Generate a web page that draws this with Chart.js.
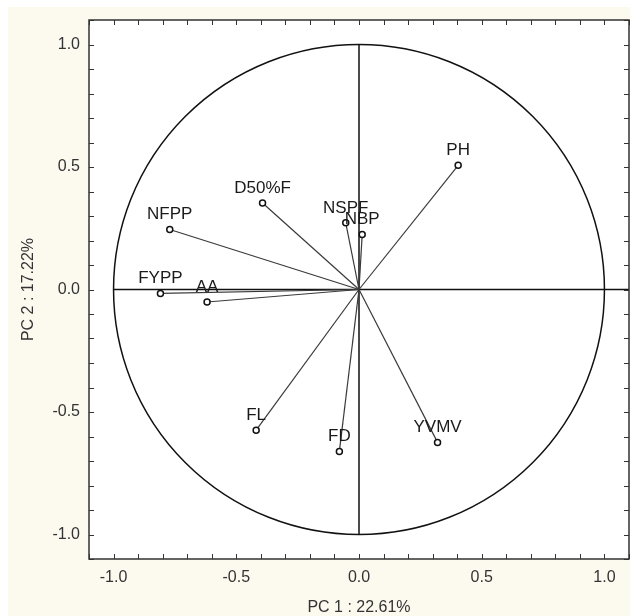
<!DOCTYPE html>
<html>
<head>
<meta charset="utf-8">
<script src="https://cdn.jsdelivr.net/npm/chart.js@4.4.1/dist/chart.umd.min.js"></script>
<style>
  html, body { margin: 0; padding: 0; background: #ffffff; }
  #wrap { width: 630px; height: 616px; }
</style>
</head>
<body>
<div id="wrap"><canvas id="c" width="630" height="616"></canvas></div>
<script>
// ---- data ----
const variables = ['PH', 'D50%F', 'NFPP', 'NSPF', 'NBP', 'FYPP', 'AA', 'FL', 'FD', 'YVMV'];
const pc1 = [0.404, -0.393, -0.771, -0.054, 0.013, -0.809, -0.619, -0.419, -0.080, 0.320];
const pc2 = [0.507, 0.353, 0.245, 0.272, 0.224, -0.016, -0.051, -0.574, -0.661, -0.624];
const tickValues = [-1.0, -0.5, 0.0, 0.5, 1.0];
const minorTicks = [-1.1, -1.0, -0.9, -0.8, -0.7, -0.6, -0.5, -0.4, -0.3, -0.2, -0.1, 0.0,
                    0.1, 0.2, 0.3, 0.4, 0.5, 0.6, 0.7, 0.8, 0.9, 1.0, 1.1];
const xTitle = 'PC 1 : 22.61%';
const yTitle = 'PC 2 : 17.22%';
const axisMin = -1.1, axisMax = 1.1;

const FONT = "'Liberation Sans', Arial, sans-serif";

const datasets = variables.map((name, i) => ({
  label: name,
  data: [{x: 0, y: 0}, {x: pc1[i], y: pc2[i]}],
  showLine: true,
  borderColor: '#3a3a3a',
  borderWidth: 1.2,
  pointRadius: [0, 3],
  pointHoverRadius: [0, 3],
  pointBorderColor: '#111',
  pointBackgroundColor: '#ffffff',
  pointBorderWidth: 1.5
}));

const decor = {
  id: 'decor',
  beforeDraw(chart) {
    const {ctx, chartArea: a} = chart;
    ctx.save();
    ctx.fillStyle = '#fcf9ef';
    ctx.fillRect(8, 7, chart.width - 8, chart.height - 7);
    ctx.fillStyle = '#ffffff';
    ctx.fillRect(a.left, a.top, a.right - a.left, a.bottom - a.top);
    ctx.restore();
  },
  beforeDatasetsDraw(chart) {
    const {ctx, scales: {x, y}} = chart;
    const cx = x.getPixelForValue(0), cy = y.getPixelForValue(0);
    const rx = x.getPixelForValue(1) - cx, ry = cy - y.getPixelForValue(1);
    ctx.save();
    ctx.strokeStyle = '#111';
    ctx.lineWidth = 1.5;
    ctx.beginPath();
    ctx.ellipse(cx, cy, rx, ry, 0, 0, Math.PI * 2);
    ctx.stroke();
    // zero lines
    ctx.beginPath();
    ctx.moveTo(x.getPixelForValue(-1), cy);
    ctx.lineTo(x.getPixelForValue(axisMax), cy);
    ctx.moveTo(cx, y.getPixelForValue(1));
    ctx.lineTo(cx, y.getPixelForValue(-1));
    ctx.stroke();
    ctx.restore();
  },
  afterDatasetsDraw(chart) {
    const {ctx} = chart;
    ctx.save();
    ctx.fillStyle = '#1a1a1a';
    ctx.font = '17px ' + FONT;
    ctx.textAlign = 'center';
    ctx.textBaseline = 'middle';
    chart.data.datasets.forEach((ds, i) => {
      const p = chart.getDatasetMeta(i).data[1];
      ctx.fillText(ds.label, p.x, p.y - 15);
    });
    ctx.restore();
  },
  afterDraw(chart) {
    const {ctx, chartArea: a, scales: {x, y}} = chart;
    ctx.save();
    ctx.strokeStyle = '#333';
    ctx.lineWidth = 1.5;
    ctx.strokeRect(a.left, a.top, a.right - a.left, a.bottom - a.top);
    ctx.lineWidth = 1;
    ctx.beginPath();
    const L = 5;
    minorTicks.forEach(v => {
      const px = Math.round(x.getPixelForValue(v)) + 0.5;
      ctx.moveTo(px, a.bottom); ctx.lineTo(px, a.bottom - L);
      ctx.moveTo(px, a.top); ctx.lineTo(px, a.top + L);
      const py = Math.round(y.getPixelForValue(v)) + 0.5;
      ctx.moveTo(a.left, py); ctx.lineTo(a.left + L, py);
      ctx.moveTo(a.right, py); ctx.lineTo(a.right - L, py);
    });
    ctx.stroke();
    ctx.restore();
  }
};

new Chart(document.getElementById('c'), {
  type: 'scatter',
  data: { datasets },
  plugins: [decor],
  options: {
    responsive: false,
    animation: false,
    events: [],
    layout: { autoPadding: false, padding: { left: 0, top: 20, right: 1, bottom: 0 } },
    plugins: { legend: { display: false }, tooltip: { enabled: false } },
    scales: {
      x: {
        type: 'linear', min: axisMin, max: axisMax,
        afterFit(s) { s.height = 57; s.paddingLeft = 0; s.paddingRight = 0; },
        afterBuildTicks(s) { s.ticks = tickValues.map(v => ({value: v})); },
        grid: { display: false, drawTicks: false },
        border: { display: false },
        ticks: { padding: 9, color: '#333', font: { family: FONT, size: 16 },
                  callback: v => v.toFixed(1), maxRotation: 0, autoSkip: false },
        title: { display: true, text: xTitle, color: '#333',
                 font: { family: FONT, size: 16 }, padding: { top: 0, bottom: -1 } }
      },
      y: {
        type: 'linear', min: axisMin, max: axisMax,
        afterFit(s) { s.width = 89; s.paddingTop = 0; s.paddingBottom = 0; },
        afterBuildTicks(s) { s.ticks = tickValues.map(v => ({value: v})); },
        grid: { display: false, drawTicks: false },
        border: { display: false },
        ticks: { padding: 9, color: '#333', font: { family: FONT, size: 16 },
                  callback: v => v.toFixed(1), autoSkip: false },
        title: { display: true, text: yTitle, color: '#333',
                 font: { family: FONT, size: 16 }, padding: { top: 19, bottom: 0 } }
      }
    }
  }
});
</script>
</body>
</html>
